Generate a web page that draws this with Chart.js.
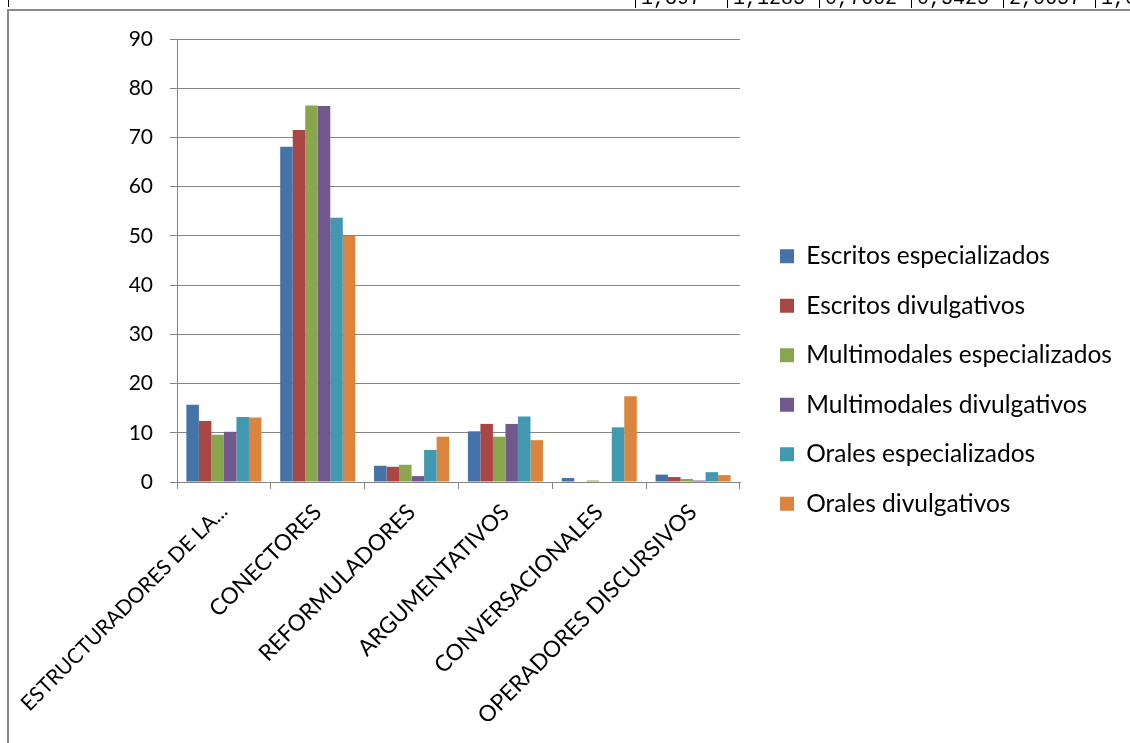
<!DOCTYPE html>
<html>
<head>
<meta charset="utf-8">
<script src="https://cdn.jsdelivr.net/npm/chart.js@4.4.0/dist/chart.umd.min.js"></script>
<style>
  html, body { margin: 0; padding: 0; background: #fff; }
  #wrap { position: relative; width: 1130px; height: 743px; overflow: hidden; }
  #chart { position: absolute; left: 0; top: 0; }
  .rule { position: absolute; background: #8a8a8a; }
  #row { position: absolute; left: 0; top: 0; width: 1130px; height: 8px; overflow: hidden; }
  .cell { position: absolute; top: -13px; width: 86px; height: 24px; padding-left: 6px;
          font: 20px "Liberation Mono", monospace; color: #000; white-space: nowrap; }
  .sep { position: absolute; top: 0; width: 1px; height: 8px; background: #000; }
</style>
</head>
<body>
<div id="wrap">
  <canvas id="chart" width="1130" height="743"></canvas>
  <div id="row"></div>
  <div class="rule" style="left:7px; top:9px; width:1123px; height:2px;"></div>
  <div class="rule" style="left:7px; top:9px; width:2px; height:734px;"></div>
  <div class="sep" style="left:8px; height:7px;"></div>
</div>
<script>
// bottom of the table row above the chart
const tableRow = ["1,397", "1,1285", "0,7662", "0,5425", "2,0657", "1,0"];

const categories = [
    "ESTRUCTURADORES DE LA...",
    "CONECTORES",
    "REFORMULADORES",
    "ARGUMENTATIVOS",
    "CONVERSACIONALES",
    "OPERADORES DISCURSIVOS"
];

const seriesNames = [
    "Escritos especializados",
    "Escritos divulgativos",
    "Multimodales especializados",
    "Multimodales divulgativos",
    "Orales especializados",
    "Orales divulgativos"
];

const escritosEsp = [15.7, 68.1, 3.3, 10.3, 0.8, 1.5];
const escritosDiv = [12.4, 71.5, 3.1, 11.8, 0, 1.0];
const multiEsp = [9.6, 76.5, 3.5, 9.2, 0.3, 0.6];
const multiDiv = [10.2, 76.4, 1.2, 11.8, 0, 0.3];
const oralesEsp = [13.2, 53.7, 6.5, 13.3, 11.1, 2.0];
const oralesDiv = [13.1, 50.0, 9.2, 8.5, 17.4, 1.4];

const colors = ["#4572a7", "#aa4643", "#89a54e", "#71588f", "#4198af", "#db843d"];

const buildRow = () => {
    const row = document.getElementById("row");
    tableRow.forEach((txt, i) => {
        const left = 635 + i * 92;
        const sep = document.createElement("div");
        sep.className = "sep";
        sep.style.left = left + "px";
        row.appendChild(sep);

        const cell = document.createElement("div");
        cell.className = "cell";
        cell.style.left = left + "px";
        cell.textContent = txt;
        row.appendChild(cell);
    });
}

const drawChart = () => {
    const values = [escritosEsp, escritosDiv, multiEsp, multiDiv, oralesEsp, oralesDiv];
    const font = "Lato";

    const ctx = document.getElementById("chart").getContext("2d");

    new Chart(ctx, {
        type: "bar",
        data: {
            labels: categories,
            datasets: values.map((data, i) => ({
                label: seriesNames[i],
                data,
                backgroundColor: colors[i],
                borderWidth: 0,
                categoryPercentage: 0.8,
                barPercentage: 1.0
            }))
        },
        options: {
            responsive: false,
            animation: false,
            devicePixelRatio: 1,
            layout: {
                padding: { left: 100, top: 39, right: 10, bottom: 22 }
            },
            plugins: {
                tooltip: { enabled: false },
                legend: {
                    position: "right",
                    maxWidth: 365,
                    labels: {
                        color: "#000",
                        boxWidth: 14,
                        boxHeight: 14,
                        padding: 25,
                        font: { family: font, size: 24.5 }
                    }
                }
            },
            scales: {
                y: {
                    min: 0,
                    max: 90,
                    afterFit: scale => { scale.width = 77; },
                    ticks: {
                        stepSize: 10,
                        padding: 17,
                        color: "#000",
                        font: { family: font, size: 21 }
                    },
                    grid: {
                        color: "#858585",
                        lineWidth: 1,
                        tickLength: 7
                    },
                    border: { color: "#858585", width: 1 }
                },
                // empty strip between the plot and the legend
                gap: {
                    type: "linear",
                    position: "right",
                    afterFit: scale => { scale.width = 15; },
                    grid: { display: false },
                    ticks: { display: false },
                    border: { display: false }
                },
                x: {
                    afterFit: scale => {
                        scale.height = 239;
                        // let the long first label run under the y axis
                        scale.paddingLeft = 0;
                        scale.paddingRight = 0;
                    },
                    ticks: {
                        autoSkip: false,
                        maxRotation: 45,
                        minRotation: 45,
                        padding: 10,
                        color: "#000",
                        // first label is the long one, keep it inside the frame
                        font: c => ({ family: font, size: c.index === 0 ? 21 : 22.5 })
                    },
                    grid: {
                        drawOnChartArea: false,
                        color: "#858585",
                        tickLength: 7
                    },
                    border: { color: "#858585", width: 1 }
                }
            }
        }
    });
}

window.onload = () => {
    buildRow();
    drawChart();
}
</script>
</body>
</html>
